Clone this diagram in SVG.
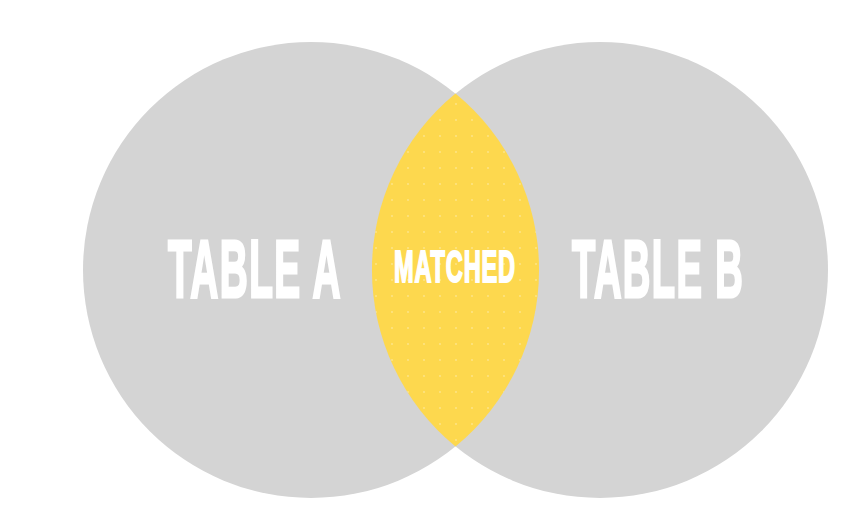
<svg xmlns="http://www.w3.org/2000/svg" width="848" height="528" viewBox="0 0 848 528">
  <style>
    .set { fill: #d4d4d4; }
    .overlap { fill: #fdd84e; }
    .label { font-family: "Liberation Sans", Arial, sans-serif; font-weight: bold; fill: #ffffff; stroke: #ffffff; stroke-linejoin: miter; }
    .big { font-size: 81px; letter-spacing: 3px; stroke-width: 3; }
    .small { font-size: 44px; letter-spacing: 1.5px; stroke-width: 2; }
  </style>
  <defs>
    <pattern id="dots" width="16" height="16" patternUnits="userSpaceOnUse">
      <circle cx="8" cy="8" r="0.9" fill="#ffffff" fill-opacity="0.35"/>
    </pattern>
  </defs>
  <rect width="848" height="528" fill="#ffffff"/>

  <g id="table-a">
    <circle class="set" cx="311" cy="270" r="228"/>
  </g>
  <g id="table-b">
    <circle class="set" cx="600" cy="270" r="228"/>
  </g>
  <g id="matched">
    <path class="overlap" d="M455.5 93.6 A228 228 0 0 1 455.5 446.4 A228 228 0 0 1 455.5 93.6 Z"/>
    <path fill="url(#dots)" d="M455.5 93.6 A228 228 0 0 1 455.5 446.4 A228 228 0 0 1 455.5 93.6 Z"/>
  </g>

  <!-- condensed white labels: horizontally squeezed bold sans -->
  <g id="labels">
    <text class="label big" transform="translate(168,297) scale(0.479,1)">TABLE A</text>
    <text class="label big" transform="translate(572,297) scale(0.471,1)">TABLE B</text>
    <text class="label small" transform="translate(394,282) scale(0.537,1)">MATCHED</text>
  </g>
</svg>
